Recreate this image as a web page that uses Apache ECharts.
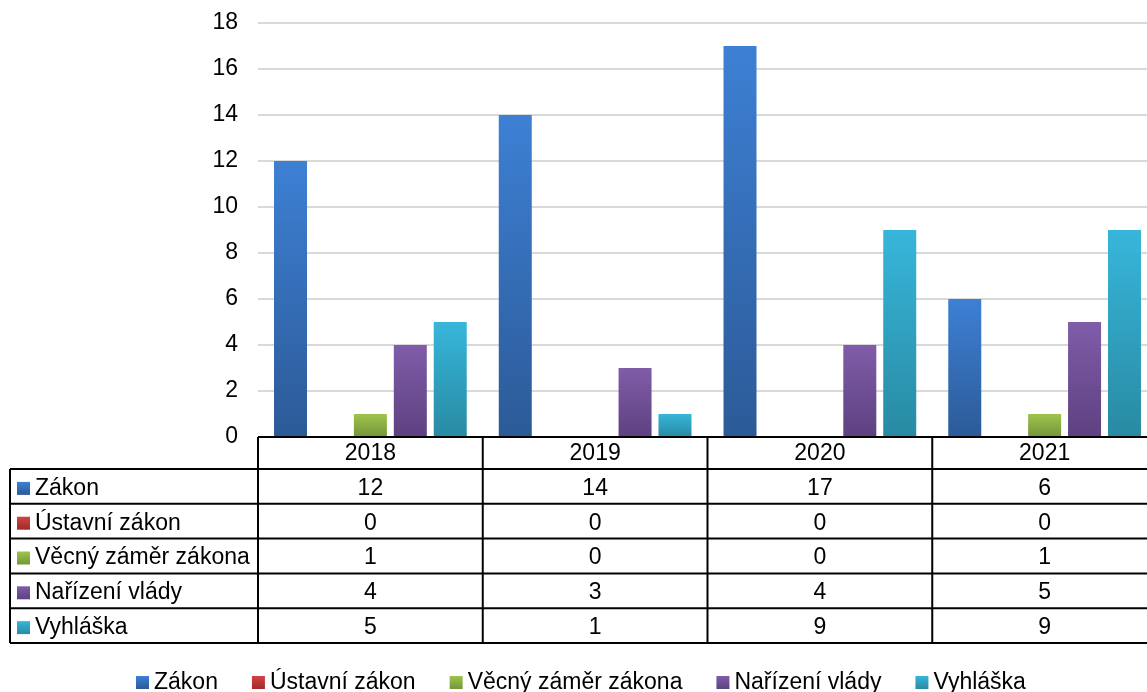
<!DOCTYPE html>
<html>
<head>
<meta charset="utf-8">
<script src="https://cdn.jsdelivr.net/npm/echarts@6/dist/echarts.min.js"></script>
<style>
  html, body { margin: 0; padding: 0; background: #fff; }
  #main { width: 1147px; height: 692px; }
</style>
</head>
<body>
<div id="main"></div>
<script>
// data
const years = ['2018', '2019', '2020', '2021'];
const names = ['Zákon', 'Ústavní zákon', 'Věcný záměr zákona', 'Nařízení vlády', 'Vyhláška'];
const zakon = [12, 14, 17, 6];
const ustavni = [0, 0, 0, 0];
const vecny = [1, 0, 0, 1];
const narizeni = [4, 3, 4, 5];
const vyhlaska = [5, 1, 9, 9];
const yMin = 0, yMax = 18, yStep = 2;

const values = [zakon, ustavni, vecny, narizeni, vyhlaska];
// top / bottom gradient colour of every series
const colors = [
  ['#3d80d4', '#2c5a97'],
  ['#d44242', '#a02a2a'],
  ['#9ec44c', '#75953a'],
  ['#805ca9', '#5e4180'],
  ['#37b6db', '#288aa2']
];
const font = '"Liberation Sans", Arial, sans-serif';
const fs = 23;

function grad(c) {
  return new echarts.graphic.LinearGradient(0, 0, 0, 1, [
    { offset: 0, color: c[0] }, { offset: 1, color: c[1] }
  ]);
}

const chart = echarts.init(document.getElementById('main'), null, { renderer: 'canvas' });

const option = {
  animation: false,
  textStyle: { fontFamily: font },
  grid: { left: 258, width: 899, top: 23, bottom: 255, outerBoundsMode: 'none' },
  legend: {
    left: 136, top: 671, padding: 0,
    icon: 'rect', itemWidth: 13, itemHeight: 13, itemGap: 34,
    textStyle: { fontSize: fs, color: '#000', fontFamily: font },
    data: names
  },
  xAxis: {
    type: 'category',
    data: years,
    axisLine: { show: false },
    axisTick: { show: false },
    axisLabel: { show: false }
  },
  yAxis: {
    type: 'value',
    min: yMin, max: yMax, interval: yStep,
    axisLine: { show: false },
    axisTick: { show: false },
    axisLabel: { fontSize: fs, color: '#000', margin: 20, fontFamily: font },
    splitLine: { lineStyle: { color: '#d9d9d9', width: 2 } }
  },
  series: names.map((n, i) => ({
    name: n,
    type: 'bar',
    data: values[i],
    barWidth: 33,
    barGap: '21%',
    itemStyle: {
      color: grad(colors[i]),
      shadowColor: 'rgba(0,0,0,0.25)',
      shadowBlur: 4,
      shadowOffsetX: 2,
      shadowOffsetY: 1
    }
  }))
};
chart.setOption(option);

// data table under the axis, placed from the axis scale
const xc = years.map((y, i) => chart.convertToPixel({ xAxisIndex: 0 }, i));
const cw = xc[1] - xc[0];
const y0 = chart.convertToPixel({ yAxisIndex: 0 }, 0);
const gridLeft = xc[0] - cw / 2;
const tableLeft = 10;
const headH = 32;
const rowH = 34.8;
const rightEdge = xc[xc.length - 1] + cw / 2;
const tableBottom = y0 + headH + rowH * names.length;
const ls = { stroke: '#000', lineWidth: 2 };

const els = [];
// top axis line
els.push({ type: 'line', shape: { x1: gridLeft, y1: y0, x2: rightEdge, y2: y0 }, style: ls, z: 10 });
// row lines
for (let r = 0; r <= names.length; r++) {
  const y = y0 + headH + rowH * r;
  els.push({ type: 'line', shape: { x1: tableLeft, y1: y, x2: rightEdge, y2: y }, style: ls, z: 10 });
}
// vertical lines
els.push({ type: 'line', shape: { x1: tableLeft, y1: y0 + headH, x2: tableLeft, y2: tableBottom }, style: ls, z: 10 });
for (let c = 0; c <= years.length; c++) {
  const x = gridLeft + cw * c;
  els.push({ type: 'line', shape: { x1: x, y1: y0, x2: x, y2: tableBottom }, style: ls, z: 10 });
}
// header: years
years.forEach((y, i) => {
  els.push({
    type: 'text', x: xc[i], y: y0 + headH / 2 + 1,
    style: { text: y, font: fs + 'px ' + font, fill: '#000', align: 'center', verticalAlign: 'middle' }, z: 10
  });
});
// rows
names.forEach((n, r) => {
  const cy = y0 + headH + rowH * r + rowH / 2 + 2;
  els.push({
    type: 'rect', shape: { x: 17, y: cy - 6.5, width: 13, height: 13 },
    style: { fill: grad(colors[r]) }, z: 10
  });
  els.push({
    type: 'text', x: 35, y: cy,
    style: { text: n, font: fs + 'px ' + font, fill: '#000', align: 'left', verticalAlign: 'middle' }, z: 10
  });
  values[r].forEach((v, i) => {
    els.push({
      type: 'text', x: xc[i], y: cy,
      style: { text: String(v), font: fs + 'px ' + font, fill: '#000', align: 'center', verticalAlign: 'middle' }, z: 10
    });
  });
});

chart.setOption({ graphic: { elements: els } });
</script>
</body>
</html>
